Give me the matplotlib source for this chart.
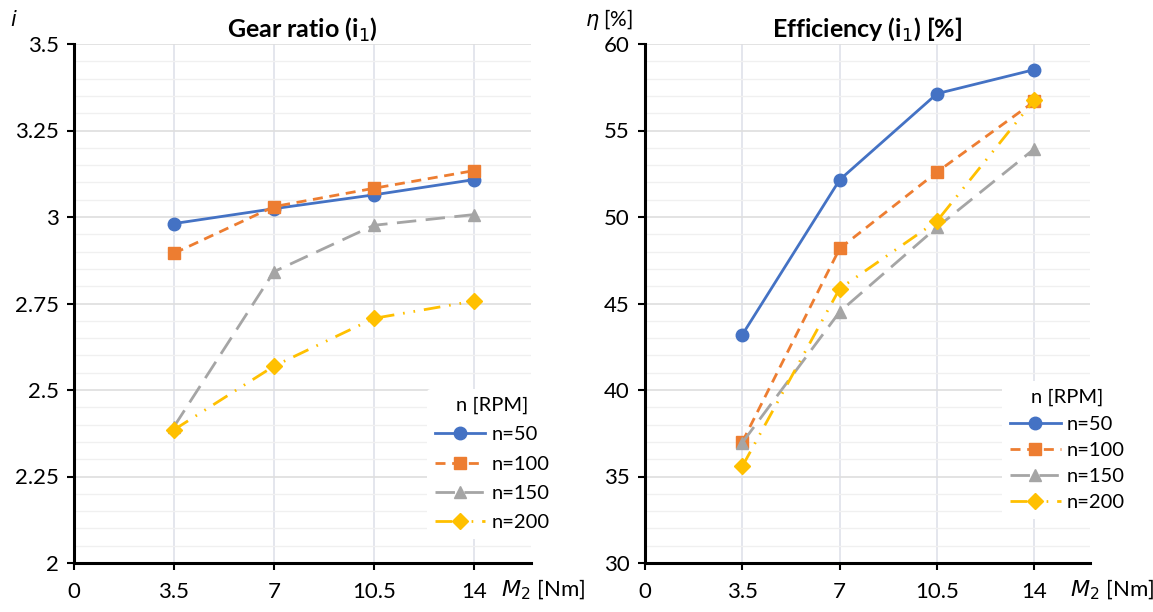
import matplotlib.pyplot as plt
import matplotlib.ticker as mticker

plt.rcParams['font.family'] = ['Lato', 'DejaVu Sans']

# couple M2 [Nm]
m2 = [3.5, 7, 10.5, 14]
labels = ['n=50', 'n=100', 'n=150', 'n=200']

# rapport de transmission i
ratio_50 = [2.981, 3.024, 3.064, 3.108]
ratio_100 = [2.895, 3.030, 3.083, 3.134]
ratio_150 = [2.394, 2.842, 2.976, 3.007]
ratio_200 = [2.385, 2.569, 2.707, 2.757]

# rendement eta [%]
eff_50 = [43.2, 52.15, 57.13, 58.52]
eff_100 = [37.0, 48.18, 52.6, 56.68]
eff_150 = [36.96, 44.52, 49.41, 53.94]
eff_200 = [35.59, 45.86, 49.77, 56.77]

colors = ['#4472C4', '#ED7D31', '#A5A5A5', '#FFC000']
markers = ['o', 's', '^', 'D']
msizes = [9, 9, 9, 8]
dashes = [None, (3.6, 2.4), (7, 3.4), (6, 3.2, 0.6, 3.2, 0.6, 3.2)]

fig = plt.figure(figsize=(11.53, 6.12), dpi=100)
ax1 = fig.add_axes([74 / 1153, 1 - 563 / 612, 457 / 1153, 519 / 612])
ax2 = fig.add_axes([645 / 1153, 1 - 563 / 612, 445 / 1153, 519 / 612])


def trace(ax, series, ylim, major, minor, title, ylab, ylab_x, xlab_x,
          leg_xy, spacing):
    for ys, c, mk, ms, d, lab in zip(series, colors, markers, msizes, dashes, labels):
        line, = ax.plot(m2, ys, color=c, marker=mk, markersize=ms, linewidth=2,
                        label=lab, zorder=3)
        if d is not None:
            line.set_dashes(d)
    ax.set_xlim(0, 16)
    ax.set_ylim(*ylim)
    ax.set_xticks([0] + m2)
    ax.set_xticklabels(['0', '3.5', '7', '10.5', '14'])
    ax.yaxis.set_major_locator(mticker.MultipleLocator(major))
    ax.yaxis.set_minor_locator(mticker.MultipleLocator(minor))
    ax.yaxis.set_major_formatter(mticker.FuncFormatter(lambda v, p: f'{v:g}'))
    ax.grid(True, which='major', axis='y', color='#dedede', linewidth=1.2)
    ax.grid(True, which='minor', axis='y', color='#f0f0f0', linewidth=1)
    for x in m2:
        ax.axvline(x, color='#dfe2ea', linewidth=1.2, zorder=0)
    ax.set_axisbelow(True)
    for s in ['top', 'right']:
        ax.spines[s].set_visible(False)
    for s in ['left', 'bottom']:
        ax.spines[s].set_linewidth(2.2)
    ax.tick_params(which='major', length=5, width=1.5, labelsize=16)
    ax.tick_params(axis='x', pad=9)
    ax.tick_params(axis='y', pad=6)
    ax.tick_params(which='minor', length=0)
    ax.set_title(title, fontsize=18, fontweight='bold', pad=3)
    ax.text(ylab_x, 1.035, ylab, transform=ax.transAxes, fontsize=15, ha='left')
    ax.text(xlab_x, -0.052, r'$M_2$ [Nm]', transform=ax.transAxes, fontsize=16,
            ha='left', va='center')
    leg = ax.legend(title='n [RPM]', loc='upper left', bbox_to_anchor=leg_xy,
                    fontsize=14.5, title_fontsize=14.5, frameon=True,
                    facecolor='white', edgecolor='white', framealpha=1,
                    labelspacing=spacing, handlelength=2.5, handletextpad=0.3,
                    borderpad=0.4)
    leg.get_frame().set_linewidth(0)


trace(ax1, [ratio_50, ratio_100, ratio_150, ratio_200], (2, 3.5), 0.25, 0.05,
      r'Gear ratio (i$_1$)', r'$i$', -0.14, 0.935, (0.75, 0.355), 0.6)
trace(ax2, [eff_50, eff_100, eff_150, eff_200], (30, 60), 5, 1,
      r'Efficiency (i$_1$) [%]', r'$\eta$ [%]', -0.135, 0.955, (0.78, 0.37), 0.45)

fig.savefig('out.png', dpi=100)
